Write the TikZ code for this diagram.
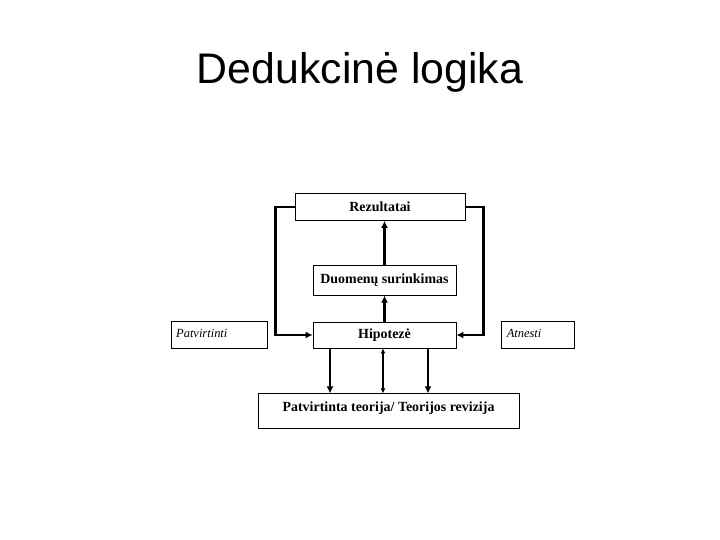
\documentclass[tikz,border=0pt]{standalone}
\usepackage{fontspec}
\setmainfont{Liberation Serif}
\newfontfamily\titlefont{Liberation Sans}
\usepackage{tikz}
\usetikzlibrary{arrows.meta, positioning}
\tikzset{
  stage/.style={rectangle, draw=black, line width=0.8bp, fill=white,
    inner sep=0pt, align=center, font=\fontsize{14}{16}\selectfont\bfseries},
  verdict/.style={rectangle, draw=black, line width=0.8bp, fill=white,
    inner xsep=5bp, inner ysep=0pt, text height=16bp, text depth=11bp,
    align=left, font=\fontsize{12.5}{14}\selectfont\itshape},
  flowline/.style={-{Latex[length=7bp,width=7bp]}, line width=2.6bp},
  twoway/.style={{Latex[length=5bp,width=5bp]}-{Latex[length=5bp,width=5bp]}, line width=2.6bp}
}

\begin{document}
\begin{tikzpicture}[x=1bp, y=-1bp]
  \useasboundingbox (0,0) rectangle (720,540);
  \node[font=\titlefont\fontsize{43}{50}\selectfont, anchor=base] (title) at (360,84) {Dedukcinė logika};

  \node[stage, minimum width=143bp, minimum height=26bp] (hyp) at (384.5,335) {Hipotezė};
  \node[stage, minimum width=143bp, minimum height=30bp, above=26bp of hyp] (duom) {Duomenų surinkimas};
  \node[stage, minimum width=170bp, minimum height=27bp, above=44bp of duom, xshift=-4.5bp] (rez) {Rezultatai};
  \node[stage, minimum width=261bp, inner ysep=4bp, text height=13.5bp, text depth=13.5bp,
    below=45bp of hyp, xshift=4bp] (theory) {Patvirtinta teorija/ Teorijos revizija};
  \node[verdict, text width=86bp, left=45bp of hyp] (patv) {Patvirtinti};
  \node[verdict, text width=63bp, right=45bp of hyp] (atm) {Atnesti};

  \draw[flowline] (duom.north) -- (duom.north |- rez.south);
  \draw[flowline] (hyp.north) -- (duom.south);
  \draw[flowline] (rez.west) -- ++(-19,0) |- (hyp.west);
  \draw[flowline] (rez.east) -- ++(18,0) |- (hyp.east);

  \draw[flowline] ([xshift=-54.5bp]hyp.south) -- ([xshift=-54.5bp]hyp.south |- theory.north);
  \draw[twoway] ([xshift=-1.5bp]hyp.south) -- ([xshift=-1.5bp]hyp.south |- theory.north);
  \draw[flowline] ([xshift=43.5bp]hyp.south) -- ([xshift=43.5bp]hyp.south |- theory.north);
\end{tikzpicture}
\end{document}
